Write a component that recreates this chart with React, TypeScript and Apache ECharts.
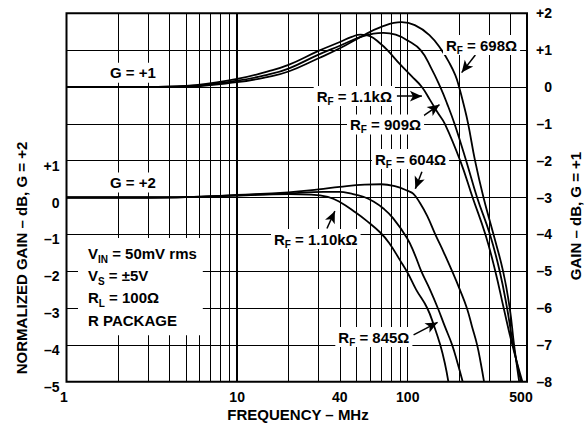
import React, { useEffect, useRef } from 'react';
import * as echarts from 'echarts';

const FONT = "'Liberation Sans', Arial, Helvetica, sans-serif";

// x-axis (frequency, MHz)
const xGridLines = [2, 3, 4, 5, 6, 7, 8, 9, 20, 30, 50, 60, 70, 80, 90, 200, 300, 400];
const xLabelTicks = [1, 10, 40, 100, 500];

// G = +1 curves (right axis, GAIN dB)
const f698 = [1, 3, 5, 10, 15, 20, 30, 40, 53, 70, 92, 110, 134, 158, 175, 190, 200, 212, 226, 248, 278, 318, 362, 396, 420, 450];
const g698 = [0, 0, 0.01, 0.13, 0.27, 0.42, 0.78, 1.05, 1.36, 1.63, 1.76, 1.68, 1.41, 1.0, 0.66, 0.32, 0, -0.45, -1, -2, -3, -4, -5, -6, -7, -8];

const f909 = [1, 3, 5, 10, 15, 20, 30, 40, 53, 63, 72, 85, 100, 119, 137, 155, 170, 188, 220, 255, 303, 346, 382, 415, 462];
const g909 = [0, 0, 0.02, 0.17, 0.33, 0.5, 0.88, 1.12, 1.36, 1.45, 1.47, 1.42, 1.26, 1.0, 0.52, 0, -0.45, -1, -2, -3, -4, -5, -6, -7, -8];

const f1k1 = [1, 3, 5, 10, 15, 20, 30, 40, 47, 53, 60, 69, 76, 90, 105, 121, 135, 150, 165, 203, 240, 285, 326, 365, 410, 470];
const g1k1 = [0, 0, 0.03, 0.22, 0.42, 0.6, 0.98, 1.22, 1.36, 1.42, 1.38, 1.18, 1.0, 0.62, 0.3, 0, -0.35, -0.7, -1, -2, -3, -4, -5, -6, -7, -8];

// G = +2 curves (left axis, NORMALIZED GAIN dB)
const f604 = [1, 3, 5, 10, 20, 30, 40, 56, 70, 85, 100, 108, 118, 130, 145, 163, 182, 202, 222, 238, 255, 268, 280];
const g604 = [0, 0, 0.01, 0.07, 0.14, 0.22, 0.29, 0.35, 0.36, 0.3, 0.18, 0.1, -0.15, -0.5, -1, -1.5, -2, -2.5, -3, -3.5, -4, -4.5, -5];

const f845 = [1, 3, 5, 10, 20, 32, 40, 46, 55, 63, 72, 82, 99, 110, 120, 135, 150, 165, 182, 196, 210];
const g845 = [0, 0, 0.01, 0.06, 0.11, 0.15, 0.15, 0.11, 0.02, -0.11, -0.3, -0.56, -1.1, -1.55, -2, -2.5, -3, -3.5, -4, -4.5, -5];

const f1k10 = [1, 3, 5, 10, 20, 27, 34, 40, 50, 57, 69, 78, 90, 100, 112, 130, 143, 155, 165, 173];
const g1k10 = [0, 0, 0.01, 0.05, 0.09, 0.08, 0.02, -0.12, -0.42, -0.62, -0.95, -1.24, -1.7, -2.05, -2.5, -3, -3.5, -4, -4.5, -5];

// annotation arrows (right-axis scale)
const arrowTailF = [249, 86.4, 121.1, 121.1, 33.6, 108.2];
const arrowTailV = [0.87, -0.25, -0.81, -2.3, -3.84, -6.73];
const arrowHeadF = [207, 121.1, 153.5, 110.8, 37.4, 149.6];
const arrowHeadV = [0.39, -0.25, -0.48, -2.76, -3.37, -6.39];

const pairs = (f: number[], g: number[]) => f.map((x, i) => [x, g[i]]);

const fmtSigned = (v: number) => (v > 0 ? '+' + v : v < 0 ? '\u2013' + -v : '0');

export default function App() {
  const ref = useRef<HTMLDivElement>(null);
  useEffect(() => {
    document.body.style.margin = '0';
    const chart = echarts.init(ref.current!, null, { renderer: 'svg' });

    const tickFont = { fontSize: 14, fontWeight: 'bold' as const, fontFamily: FONT, color: '#000' };
    const baseText = { fontSize: 15, fontWeight: 'bold', fontFamily: FONT, fill: '#000' };
    const sub = { fontSize: 10, fontWeight: 'bold', fontFamily: FONT, fill: '#000', verticalAlign: 'bottom', lineHeight: 12 };

    const label = (x: number, y: number, text: string) => ({
      type: 'text',
      x,
      y,
      z: 100,
      silent: true,
      style: {
        ...baseText,
        text,
        rich: { s: sub },
        lineHeight: 20,
        align: 'left',
        verticalAlign: 'middle',
        backgroundColor: '#fff',
        padding: [0, 3],
      },
    });

    const curve = (name: string, f: number[], g: number[], yAxisIndex: number, extra: any = {}) => ({
      type: 'line',
      name,
      data: pairs(f, g),
      yAxisIndex,
      showSymbol: false,
      symbol: 'none',
      smooth: 0.45,
      silent: true,
      z: 3,
      lineStyle: { color: '#000', width: 1.8 },
      ...extra,
    });

    const gridMarkLine = {
      silent: true,
      symbol: ['none', 'none'],
      lineStyle: { color: '#000', width: 1, type: 'solid' },
      label: { show: false },
      emphasis: { disabled: true },
      data: [
        ...xGridLines.map((v) => ({ xAxis: v })),
        ...xLabelTicks.map((v) => ({
          xAxis: v,
          lineStyle: { color: '#000', width: v === 10 ? 2 : 1, type: 'solid' },
          label: {
            show: true,
            position: 'start',
            distance: 8,
            formatter: String(v),
            ...tickFont,
            padding: v === 500 ? [0, 12, 0, 0] : v === 1 ? [0, 5, 0, 0] : 0,
          },
        })),
      ],
    };

    const arrowMarkLine = {
      silent: true,
      symbol: ['none', 'arrow'],
      symbolSize: [8, 12],
      lineStyle: { color: '#000', width: 1.5, type: 'solid' },
      label: { show: false },
      emphasis: { disabled: true },
      data: arrowTailF.map((f, i) => [
        { coord: [f, arrowTailV[i]] },
        { coord: [arrowHeadF[i], arrowHeadV[i]] },
      ]),
    };

    const option: any = {
      animation: false,
      backgroundColor: '#fff',
      grid: {
        left: 66.5,
        right: 58,
        top: 13.3,
        bottom: 47.3,
        show: true,
        borderColor: '#000',
        borderWidth: 2,
        containLabel: false,
        outerBoundsMode: 'none',
      },
      xAxis: {
        type: 'log',
        logBase: 10,
        min: 1,
        max: 500,
        axisLine: { show: false },
        axisTick: { show: false },
        axisLabel: { show: false },
        splitLine: { show: false },
      },
      yAxis: [
        {
          type: 'value',
          position: 'right',
          min: -8,
          max: 2,
          interval: 1,
          axisLine: { show: false },
          axisTick: { show: false },
          splitLine: { show: true, lineStyle: { color: '#000', width: 1 } },
          axisLabel: { ...tickFont, align: 'right', margin: 25, formatter: fmtSigned },
        },
        {
          type: 'value',
          position: 'left',
          min: -5,
          max: 5,
          interval: 1,
          axisLine: { show: false },
          axisTick: { show: false },
          splitLine: { show: false },
          axisLabel: {
            ...tickFont,
            margin: 7,
            verticalAlign: 'top',
            lineHeight: 10,
            formatter: (v: number) => (v > 1 ? '' : fmtSigned(v)),
          },
        },
      ],
      series: [
        curve('RF=698 G=+1', f698, g698, 0, { markLine: gridMarkLine }),
        curve('RF=909 G=+1', f909, g909, 0, { markLine: arrowMarkLine }),
        curve('RF=1.1k G=+1', f1k1, g1k1, 0),
        curve('RF=604 G=+2', f604, g604, 1),
        curve('RF=845 G=+2', f845, g845, 1),
        curve('RF=1.10k G=+2', f1k10, g1k10, 1),
      ],
      graphic: [
        label(443, 45, 'R{s|F} = 698Ω'),
        label(313.7, 96, 'R{s|F} = 1.1kΩ'),
        label(347, 124.5, 'R{s|F} = 909Ω'),
        label(372, 159, 'R{s|F} = 604Ω'),
        label(271, 239, 'R{s|F} = 1.10kΩ'),
        label(335.3, 337, 'R{s|F} = 845Ω'),
        label(107, 72.8, 'G = +1'),
        label(107, 182.5, 'G = +2'),
        {
          type: 'text',
          x: 78,
          y: 238,
          z: 100,
          silent: true,
          style: {
            ...baseText,
            text: 'V{s|IN} = 50mV rms\nV{s|S} = ±5V\nR{s|L} = 100Ω\nR PACKAGE',
            rich: { s: sub },
            lineHeight: 22.3,
            align: 'left',
            verticalAlign: 'top',
            backgroundColor: '#fff',
            padding: [4, 6, 4, 10],
          },
        },
        {
          type: 'text',
          x: 21,
          y: 258,
          rotation: Math.PI / 2,
          silent: true,
          style: { ...baseText, text: 'NORMALIZED GAIN – dB, G = +2', align: 'center', verticalAlign: 'middle' },
        },
        {
          type: 'text',
          x: 575,
          y: 216,
          rotation: Math.PI / 2,
          silent: true,
          style: { ...baseText, text: 'GAIN – dB, G = +1', align: 'center', verticalAlign: 'middle' },
        },
        {
          type: 'text',
          x: 298,
          y: 414,
          silent: true,
          style: { ...baseText, text: 'FREQUENCY – MHz', align: 'center', verticalAlign: 'middle' },
        },
      ],
    };

    chart.setOption(option);
    return () => chart.dispose();
  }, []);

  return (
    <div
      ref={ref}
      style={{ position: 'fixed', left: 0, top: 0, width: 585, height: 429, background: '#fff' }}
    />
  );
}
